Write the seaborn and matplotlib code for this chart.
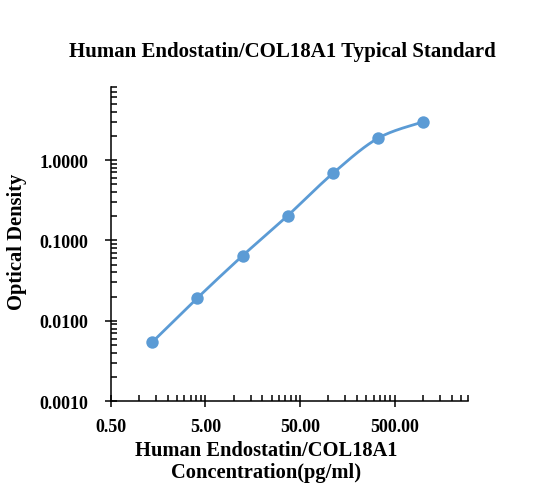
import numpy as np
import matplotlib
matplotlib.use("Agg")
import matplotlib.pyplot as plt
import seaborn as sns
from matplotlib.ticker import LogLocator, FormatStrFormatter, NullFormatter

# standard curve values
concentration = [1.37, 4.12, 12.35, 37.04, 111.11, 333.33, 1000.00]
optical_density = [0.0054, 0.0192, 0.0643, 0.203, 0.681, 1.866, 2.985]

title = "Human Endostatin/COL18A1 Typical Standard"
xlabel = "Human Endostatin/COL18A1\nConcentration(pg/ml)"
ylabel = "Optical Density"

BLUE = "#5B9BD5"


def smooth_curve(x, y, steps=30):
    # excel style smoothed line, bezier through the points in log-log space
    pts = np.column_stack([np.log10(x), np.log10(y)])
    pad = np.vstack([pts[0], pts, pts[-1]])
    out = []
    t = np.linspace(0, 1, steps)[:, None]
    for i in range(1, len(pad) - 2):
        p0, p1, p2, p3 = pad[i - 1], pad[i], pad[i + 1], pad[i + 2]
        c1 = p1 + (p2 - p0) / 6
        c2 = p2 - (p3 - p1) / 6
        seg = (1 - t) ** 3 * p1 + 3 * (1 - t) ** 2 * t * c1 + 3 * (1 - t) * t ** 2 * c2 + t ** 3 * p2
        out.append(seg if i == 1 else seg[1:])
    out = np.vstack(out)
    return 10 ** out[:, 0], 10 ** out[:, 1]


def main():
    sns.set_style("ticks")
    plt.rcParams['font.family'] = ['Liberation Serif', 'DejaVu Serif']
    plt.rcParams['font.weight'] = 'bold'
    plt.rcParams['text.color'] = 'black'

    fig = plt.figure(figsize=(5.51, 5.02), dpi=100)
    ax = fig.add_axes([0.2009, 0.199, 0.649, 0.6248])
    ax.set_xscale('log')
    ax.set_yscale('log')

    sx, sy = smooth_curve(concentration, optical_density)
    sns.lineplot(x=sx, y=sy, sort=False, estimator=None, color=BLUE, lw=2.0, ax=ax)
    sns.scatterplot(x=concentration, y=optical_density, s=80, color=BLUE,
                    edgecolor=BLUE, linewidth=0, zorder=3, ax=ax)

    ax.set_xlim(0.5, 3000)
    ax.set_ylim(0.001, 8)

    ax.xaxis.set_major_locator(LogLocator(base=10, subs=[0.5]))
    ax.xaxis.set_minor_locator(LogLocator(base=10, subs=[1, 1.5, 2, 2.5, 3, 3.5, 4, 4.5]))
    ax.xaxis.set_major_formatter(FormatStrFormatter('%.2f'))
    ax.xaxis.set_minor_formatter(NullFormatter())
    ax.yaxis.set_major_locator(LogLocator(base=10))
    ax.yaxis.set_minor_locator(LogLocator(base=10, subs=np.arange(2, 10)))
    ax.yaxis.set_major_formatter(FormatStrFormatter('%.4f'))
    ax.yaxis.set_minor_formatter(NullFormatter())

    ax.tick_params(which='major', direction='inout', length=8, width=1.1,
                   labelsize=13, color='black', labelcolor='black')
    ax.tick_params(axis='x', which='major', pad=8)
    ax.tick_params(axis='y', which='major', pad=12)
    ax.tick_params(which='minor', direction='in', length=4, width=1.1, color='black')
    for lab in ax.get_xticklabels() + ax.get_yticklabels():
        lab.set_fontweight('bold')

    sns.despine(ax=ax)
    for s in ['left', 'bottom']:
        ax.spines[s].set_linewidth(1.1)
        ax.spines[s].set_color('black')

    ax.set_xlabel('')
    ax.set_ylabel('')
    fig.text(0.512, 0.896, title, ha='center', va='center', fontsize=15, fontweight='bold')
    fig.text(0.483, 0.079, xlabel, ha='center', va='center', fontsize=14.8,
             fontweight='bold', linespacing=1.15)
    fig.text(0.031, 0.518, ylabel, ha='center', va='center', rotation=90,
             fontsize=14.8, fontweight='bold')

    fig.savefig('out.png', dpi=100)


if __name__ == "__main__":
    main()
